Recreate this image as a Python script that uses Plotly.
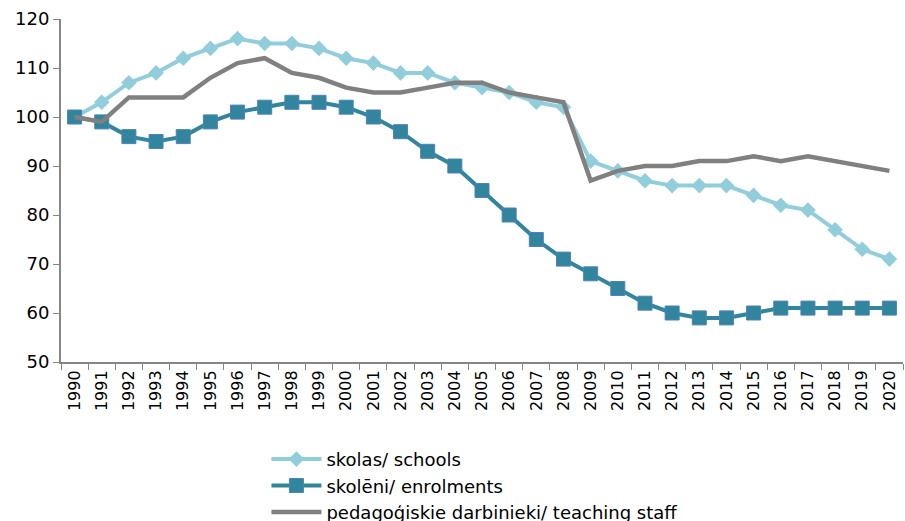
import plotly.graph_objects as go

years = [str(y) for y in range(1990, 2021)]
schools = [100, 103, 107, 109, 112, 114, 116, 115, 115, 114, 112, 111, 109, 109, 107, 106,
           105, 103, 102, 91, 89, 87, 86, 86, 86, 84, 82, 81, 77, 73, 71]
enrolments = [100, 99, 96, 95, 96, 99, 101, 102, 103, 103, 102, 100, 97, 93, 90, 85,
              80, 75, 71, 68, 65, 62, 60, 59, 59, 60, 61, 61, 61, 61, 61]
staff = [100, 99, 104, 104, 104, 108, 111, 112, 109, 108, 106, 105, 105, 106, 107, 107,
         105, 104, 103, 87, 89, 90, 90, 91, 91, 92, 91, 92, 91, 90, 89]
names = ["skolas/ schools", "skolēni/ enrolments", "pedagoģiskie darbinieki/ teaching staff"]
title_text = "(1990=100)"

FONT = "Verdana, DejaVu Sans, sans-serif"

fig = go.Figure()
fig.add_trace(go.Scatter(
    x=years, y=schools, name=names[0], mode="lines+markers",
    line=dict(color="#92CDDC", width=4),
    marker=dict(symbol="diamond", size=12, color="#92CDDC", line=dict(width=0)),
))
fig.add_trace(go.Scatter(
    x=years, y=enrolments, name=names[1], mode="lines+markers",
    line=dict(color="#31859C", width=4),
    marker=dict(symbol="square", size=14, color="#31859C", line=dict(color="#4F81BD", width=1)),
))
fig.add_trace(go.Scatter(
    x=years, y=staff, name=names[2], mode="lines",
    line=dict(color="#808080", width=4.5),
))

fig.add_annotation(
    text=title_text, xref="paper", yref="paper", x=0.481, y=1.044,
    xanchor="center", yanchor="bottom", showarrow=False,
    font=dict(family=FONT, size=17, color="#000000"),
)

fig.update_layout(
    width=905, height=521,
    margin=dict(l=61, r=2, t=19, b=159, autoexpand=False),
    paper_bgcolor="white", plot_bgcolor="white",
    font=dict(family=FONT, size=16, color="#000000"),
    showlegend=True,
    legend=dict(
        orientation="v", x=0.244, xanchor="left", y=-0.230, yanchor="top",
        font=dict(family=FONT, size=18, color="#000000"),
        bgcolor="rgba(0,0,0,0)", tracegroupgap=0, itemwidth=50,
    ),
    xaxis=dict(
        type="category", range=[-0.5, 30.5], automargin=False,
        showgrid=False, showline=True, linecolor="#868686", linewidth=2,
        ticks="outside", ticklen=6, tickcolor="#868686", tickwidth=1,
        tickson="boundaries", tickangle=-90,
        tickfont=dict(family=FONT, size=16),
    ),
    yaxis=dict(
        range=[50, 120], dtick=10, showgrid=False, zeroline=False, automargin=False,
        showline=True, linecolor="#868686", linewidth=2,
        ticks="outside", ticklen=6, tickcolor="#868686", tickwidth=1,
        tickfont=dict(family=FONT, size=18),
    ),
)

fig.write_html(
    "out.html",
    config={"displayModeBar": False},
    post_script="document.body.style.margin='0';document.body.style.overflow='hidden';",
)
